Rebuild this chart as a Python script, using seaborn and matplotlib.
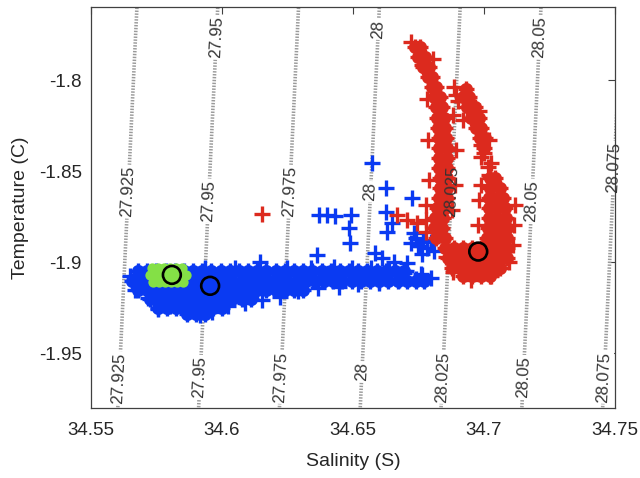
import numpy as np
import pandas as pd
import matplotlib
matplotlib.use("Agg")
import matplotlib.pyplot as plt
import seaborn as sns

# ---- density field (linearised equation of state around the water masses) ----
sigma_levels = [27.925, 27.95, 27.975, 28.0, 28.025, 28.05, 28.075]
sigma_text = ["27.925", "27.95", "27.975", "28", "28.025", "28.05", "28.075"]
SIG_REF, S_REF, T_REF = 27.9956, 34.65, -1.90
BETA, ALPHA = 0.8108, 0.0269

# temperatures where each isopycnal carries a label (None = no label in that row)
label_top_t = [None, -1.7765, None, -1.7720, None, -1.7765, None]
label_mid_t = [-1.8612, -1.8662, -1.8612, -1.8612, -1.8612, -1.8662, -1.8480]
label_bot_t = [-1.9635, -1.9630, -1.9630, -1.9602, -1.9630, -1.9630, -1.9630]

# ---- axes ----
x_ticks = [34.55, 34.60, 34.65, 34.70, 34.75]
x_ticklabels = ["34.55", "34.6", "34.65", "34.7", "34.75"]
y_ticks = [-1.95, -1.90, -1.85, -1.80]
y_ticklabels = ["-1.95", "-1.9", "-1.85", "-1.8"]

# ---- blue record: dense body (rows of temperature) and scattered samples ----
blue_core_t = [-1.905, -1.910, -1.915, -1.920, -1.925, -1.9285]
blue_core_s = [
    [34.5680, 34.5715, 34.5750, 34.5785, 34.5820, 34.5855, 34.5890, 34.5925, 34.5960, 34.5995,
     34.6030, 34.6065, 34.6100, 34.6135, 34.6170, 34.6205, 34.6240, 34.6275, 34.6310, 34.6345,
     34.6380, 34.6415, 34.6450, 34.6485, 34.6520, 34.6555, 34.6590, 34.6625, 34.6660, 34.6695],
    [34.5655, 34.5690, 34.5725, 34.5760, 34.5795, 34.5830, 34.5865, 34.5900, 34.5935, 34.5970,
     34.6005, 34.6040, 34.6075, 34.6110, 34.6145, 34.6180, 34.6215, 34.6250, 34.6285, 34.6320,
     34.6355, 34.6390, 34.6425, 34.6460, 34.6495, 34.6530, 34.6565, 34.6600, 34.6635, 34.6670,
     34.6705, 34.6740, 34.6770],
    [34.5680, 34.5715, 34.5750, 34.5785, 34.5820, 34.5855, 34.5890, 34.5925, 34.5960, 34.5995,
     34.6030, 34.6065, 34.6100, 34.6135, 34.6170, 34.6205, 34.6240, 34.6275, 34.6310],
    [34.5725, 34.5760, 34.5795, 34.5830, 34.5865, 34.5900, 34.5935, 34.5970, 34.6005, 34.6040,
     34.6075, 34.6110],
    [34.5755, 34.5790, 34.5825, 34.5860, 34.5895, 34.5930, 34.5965, 34.6000],
    [34.5865, 34.5900, 34.5935],
]
blue_pts_s = [34.5668, 34.5718, 34.5756, 34.5802, 34.5863, 34.5917, 34.5963, 34.6024, 34.6089,
              34.6154, 34.6223, 34.6292, 34.6368, 34.6445, 34.6521, 34.6598, 34.6674, 34.6740,
              34.6797, 34.5649, 34.5936, 34.6051, 34.6147, 34.6250, 34.6338, 34.6426, 34.6498,
              34.6567, 34.6636, 34.6701, 34.6759,
              34.6574, 34.6625, 34.6625, 34.6631, 34.6370, 34.6402, 34.6433, 34.6491, 34.6484,
              34.6488, 34.6363, 34.6586, 34.6612, 34.6656, 34.6650, 34.6733, 34.6720, 34.6759,
              34.6708, 34.6727, 34.6694, 34.6765, 34.6739, 34.6766, 34.6797, 34.6747, 34.6782,
              34.6808, 34.6762]
blue_pts_t = [-1.9151, -1.9195, -1.9256, -1.9239, -1.9267, -1.9289, -1.9272, -1.9239, -1.9223,
              -1.9206, -1.9190, -1.9157, -1.9140, -1.9135, -1.9118, -1.9113, -1.9096, -1.9091,
              -1.9085, -1.9074, -1.9030, -1.9030, -1.8997, -1.9030, -1.9030, -1.9025, -1.9030,
              -1.9030, -1.9036, -1.9047, -1.9063,
              -1.8454, -1.8590, -1.8723, -1.8831, -1.8739, -1.8739, -1.8744, -1.8741, -1.8812,
              -1.8894, -1.8959, -1.8949, -1.8977, -1.8996, -1.8784, -1.8839, -1.8893, -1.8913,
              -1.9004, -1.8647, -1.9058, -1.9069, -1.8865, -1.8876, -1.8887, -1.8909, -1.8920,
              -1.8937, -1.8953]

# ---- red record ----
red_core_t = [-1.7820, -1.7875, -1.7930, -1.7985, -1.8040, -1.8051, -1.8095, -1.8150, -1.8205,
              -1.8260, -1.8315, -1.8370, -1.8425, -1.8480, -1.8535, -1.8590, -1.8645, -1.8700,
              -1.8755, -1.8810, -1.8865, -1.8920, -1.8975, -1.9030, -1.9074]
red_core_s = [
    [34.6736, 34.6755],
    [34.6747, 34.6774],
    [34.6766, 34.6789],
    [34.6785, 34.6801],
    [34.6801, 34.6816],
    [34.6931],
    [34.6808, 34.6831, 34.6919, 34.6942],
    [34.6816, 34.6839, 34.6935, 34.6965],
    [34.6820, 34.6847, 34.6950, 34.6981],
    [34.6824, 34.6850, 34.6969, 34.6988],
    [34.6827, 34.6854, 34.6984, 34.7003],
    [34.6827, 34.6858, 34.7000],
    [34.6827, 34.6858],
    [34.6827, 34.6858],
    [34.6831, 34.6858, 34.7023, 34.7042],
    [34.6831, 34.6858, 34.7023, 34.7061],
    [34.6827, 34.6858, 34.7019, 34.7049, 34.7072],
    [34.6820, 34.6850, 34.7019, 34.7049, 34.7080],
    [34.6812, 34.6843, 34.7019, 34.7049, 34.7084],
    [34.6808, 34.6839, 34.7015, 34.7046, 34.7076, 34.7088],
    [34.6816, 34.6850, 34.7011, 34.7042, 34.7072, 34.7088],
    [34.6850, 34.6885, 34.6919, 34.6954, 34.6988, 34.7023, 34.7057, 34.7088],
    [34.6862, 34.6896, 34.6931, 34.6965, 34.7000, 34.7034, 34.7068, 34.7088],
    [34.6877, 34.6912, 34.6946, 34.6981, 34.7015, 34.7049, 34.7061],
    [34.6919, 34.6954, 34.6988, 34.7023],
]
red_pts_s = [34.6885, 34.6900, 34.6154, 34.6667, 34.6705, 34.6743, 34.6778,
             34.6988, 34.7000, 34.7015, 34.7026, 34.7019, 34.6988,
             34.6720, 34.6762, 34.6782, 34.6785, 34.6789, 34.6778, 34.6778,
             34.6881, 34.6893, 34.6889, 34.6877,
             34.6881, 34.6950, 34.7026, 34.7095, 34.6854,
             34.7118, 34.7114, 34.7111, 34.6981, 34.6977, 34.6988,
             34.6893, 34.6981, 34.7019, 34.6919, 34.6805]
red_pts_t = [-1.8035, -1.8117, -1.8734, -1.8739, -1.8767, -1.8783, -1.8767,
             -1.8420, -1.8398, -1.8475, -1.8453, -1.8519, -1.8354,
             -1.7793, -1.7914, -1.8106, -1.8326, -1.8546, -1.8684, -1.8832,
             -1.8189, -1.8381, -1.8574, -1.8711,
             -1.9052, -1.9096, -1.9074, -1.8997, -1.8970,
             -1.8684, -1.8794, -1.8904, -1.8656, -1.8794, -1.8574,
             -1.8079, -1.8172, -1.8326, -1.8216, -1.7886]

# ---- green record ----
green_t = [-1.9030, -1.9069, -1.9107]
green_s = [
    [34.5733, 34.5756, 34.5779, 34.5802, 34.5825, 34.5848],
    [34.5726, 34.5749, 34.5772, 34.5795, 34.5818, 34.5841, 34.5864],
    [34.5737, 34.5760, 34.5783, 34.5806, 34.5829, 34.5852],
]

# ---- mean T/S of each record ----
mean_s = [34.5809, 34.5955, 34.6978]
mean_t = [-1.9069, -1.9129, -1.8941]

BLUE, RED, GREEN = "#0a3af2", "#dc2a1e", "#84e046"


def rows_to_frame(rows_t, rows_s):
    t = [tv for tv, ss in zip(rows_t, rows_s) for _ in ss]
    s = [sv for ss in rows_s for sv in ss]
    return pd.DataFrame({"S": s, "T": t})


blue_core = rows_to_frame(blue_core_t, blue_core_s)
blue_pts = pd.DataFrame({"S": blue_pts_s, "T": blue_pts_t})
red_core = rows_to_frame(red_core_t, red_core_s)
red_pts = pd.DataFrame({"S": red_pts_s, "T": red_pts_t})
green = rows_to_frame(green_t, green_s)
means = pd.DataFrame({"S": mean_s, "T": mean_t})

sns.set_theme(style="white")
plt.rcParams["font.family"] = ["Liberation Sans", "DejaVu Sans"]
plt.rcParams["axes.unicode_minus"] = False

fig = plt.figure(figsize=(6.4, 4.78), dpi=100)
ax = fig.add_axes([0.142, 0.1464, 0.819, 0.8383])
ax.set_xlim(34.55, 34.75)
ax.set_ylim(-1.98, -1.76)


def sigma(s, t):
    return SIG_REF + BETA * (s - S_REF) - ALPHA * (t - T_REF)


def isopycnal_s(level, t):
    return S_REF + (level - SIG_REF + ALPHA * (t - T_REF)) / BETA


gs, gt = np.meshgrid(np.linspace(34.53, 34.77, 60), np.linspace(-2.0, -1.74, 60))
cs = ax.contour(gs, gt, sigma(gs, gt), levels=sigma_levels, colors="#9a9a9a",
                linewidths=2.6, zorder=1)
cs.set_linestyle((0, (0.4, 0.4)))

# label angle along the isopycnals in display space
fig.canvas.draw()
p0 = ax.transData.transform((isopycnal_s(28.0, -1.98), -1.98))
p1 = ax.transData.transform((isopycnal_s(28.0, -1.76), -1.76))
angle = np.degrees(np.arctan2(p1[1] - p0[1], p1[0] - p0[0]))

label_font = dict(fontsize=12, rotation=angle, rotation_mode="anchor", ha="center", va="center")
for lev, txt, tt, tm, tb in zip(sigma_levels, sigma_text, label_top_t, label_mid_t, label_bot_t):
    for t in (tt, tm, tb):
        if t is None:
            continue
        s = isopycnal_s(lev, t)
        # gap in the dotted line under the label
        ax.text(s, t, txt, color="white", zorder=1.5,
                bbox=dict(facecolor="white", edgecolor="none", pad=1.0), **label_font)
        ax.text(s, t, txt, color="#333333", zorder=6, **label_font)

PLUS = dict(marker="+", s=118, linewidth=2.4, legend=False)
FILL = dict(marker="o", s=90, linewidth=0, legend=False)

sns.scatterplot(data=blue_core, x="S", y="T", color=BLUE, ax=ax, zorder=3, **FILL)
sns.scatterplot(data=blue_core, x="S", y="T", color=BLUE, ax=ax, zorder=3.1, **PLUS)
sns.scatterplot(data=blue_pts, x="S", y="T", color=BLUE, ax=ax, zorder=3.1, **PLUS)
sns.scatterplot(data=red_core, x="S", y="T", color=RED, ax=ax, zorder=3.2, **FILL)
sns.scatterplot(data=red_core, x="S", y="T", color=RED, ax=ax, zorder=3.3, **PLUS)
sns.scatterplot(data=red_pts, x="S", y="T", color=RED, ax=ax, zorder=3.3, **PLUS)
sns.scatterplot(data=green, x="S", y="T", color=GREEN, marker="o", s=55, linewidth=0,
                legend=False, ax=ax, zorder=3.5)
sns.scatterplot(data=means, x="S", y="T", marker="o", s=165, facecolor="none",
                edgecolor="black", linewidth=1.9, legend=False, ax=ax, zorder=4)

ax.set_xticks(x_ticks)
ax.set_xticklabels(x_ticklabels)
ax.set_yticks(y_ticks)
ax.set_yticklabels(y_ticklabels)
ax.tick_params(axis="both", direction="in", length=5, width=0.8, colors="#404040",
               labelcolor="#262626", labelsize=13.5, top=True, right=True)
ax.tick_params(axis="x", pad=10)
ax.tick_params(axis="y", pad=6.5)
for sp in ax.spines.values():
    sp.set_color("#404040")
    sp.set_linewidth(0.9)

ax.set_xlabel("Salinity (S)", fontsize=14, color="#262626")
ax.set_ylabel("Temperature (C)", fontsize=14, color="#262626")
ax.xaxis.set_label_coords(0.5, -0.112)
ax.yaxis.set_label_coords(-0.118, 0.5)

fig.savefig("out.png", dpi=100, facecolor="white")
